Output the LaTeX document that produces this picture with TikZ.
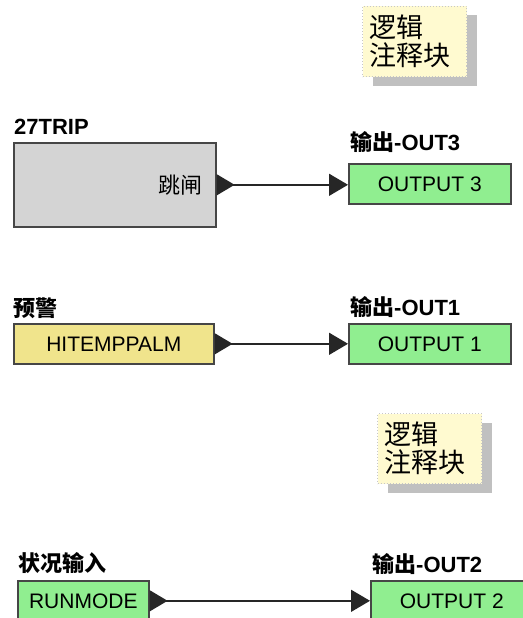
\documentclass[tikz,border=0pt]{standalone}
\usepackage{fontspec}
\setmainfont{Liberation Sans}
\newfontfamily\cjk{Noto Sans CJK SC}
\usetikzlibrary{arrows.meta,shadows}
\definecolor{gfill}{RGB}{144,238,144}
\definecolor{yfill}{RGB}{240,228,140}
\definecolor{grayfill}{RGB}{212,212,212}
\definecolor{cfill}{RGB}{255,250,208}
\definecolor{bordc}{RGB}{70,70,70}
\definecolor{shadowc}{RGB}{192,192,192}
\begin{document}
\begin{tikzpicture}[x=1pt,y=-1pt,
  blockbox/.style={draw=bordc, line width=1.6pt, anchor=north west, inner sep=0pt,
    font=\fontsize{21}{24}\selectfont},
  greenbox/.style={blockbox, fill=gfill, minimum width=162pt, minimum height=40pt},
  lbl/.style={anchor=base west, inner sep=0pt, font=\bfseries\fontsize{22}{24}\selectfont},
  commentbox/.style={fill=cfill, draw=black!22, dotted, line width=1pt, anchor=north west,
    minimum width=104pt, minimum height=70pt, text width=90pt, inner xsep=7pt, inner ysep=0pt,
    align=left, font=\cjk\fontsize{27}{28}\selectfont,
    general shadow={fill=shadowc, draw=none, shadow xshift=10pt, shadow yshift=-9pt}},
  link/.style={line width=1.5pt, draw=black!85,
    {Triangle[reversed,length=18pt,width=21pt]}-{Triangle[length=19pt,width=22pt]}}
]
\useasboundingbox (0,0) rectangle (522,618);

% comment blocks
\node[commentbox] (c1) at (362,6) {逻辑\\注释块};
\node[commentbox] (c2) at (377,413) {逻辑\\注释块};

% row 1
\node[lbl] (l1) at (14,134) {27TRIP};
\node[blockbox, fill=grayfill, minimum width=202pt, minimum height=84pt,
      text width=176pt, inner xsep=13pt, align=right, font=\cjk\fontsize{22}{24}\selectfont]
      (trip) at (13,142) {跳闸};
\node[lbl] (l2) at (350,150) {{\cjk 输出}-OUT3};
\node[greenbox] (out3) at (348,163) {OUTPUT 3};
\draw[link] (trip.east) -- (trip.east -| out3.west);

% row 2
\node[lbl] (l3) at (13,316) {\cjk 预警};
\node[blockbox, fill=yfill, minimum width=200pt, minimum height=40pt] (hi) at (13,323) {HITEMPPALM};
\node[lbl] (l4) at (350,315) {{\cjk 输出}-OUT1};
\node[greenbox] (out1) at (348,323) {OUTPUT 1};
\draw[link] (hi.east) -- (out1.west);

% row 3
\node[lbl] (l5) at (18,571) {\cjk 状况输入};
\node[blockbox, fill=gfill, minimum width=131pt, minimum height=40pt] (run) at (17,580) {RUNMODE};
\node[lbl] (l6) at (372,572) {{\cjk 输出}-OUT2};
\node[greenbox] (out2) at (370,580) {OUTPUT 2};
\draw[link] (run.east) -- (out2.west);
\end{tikzpicture}
\end{document}
